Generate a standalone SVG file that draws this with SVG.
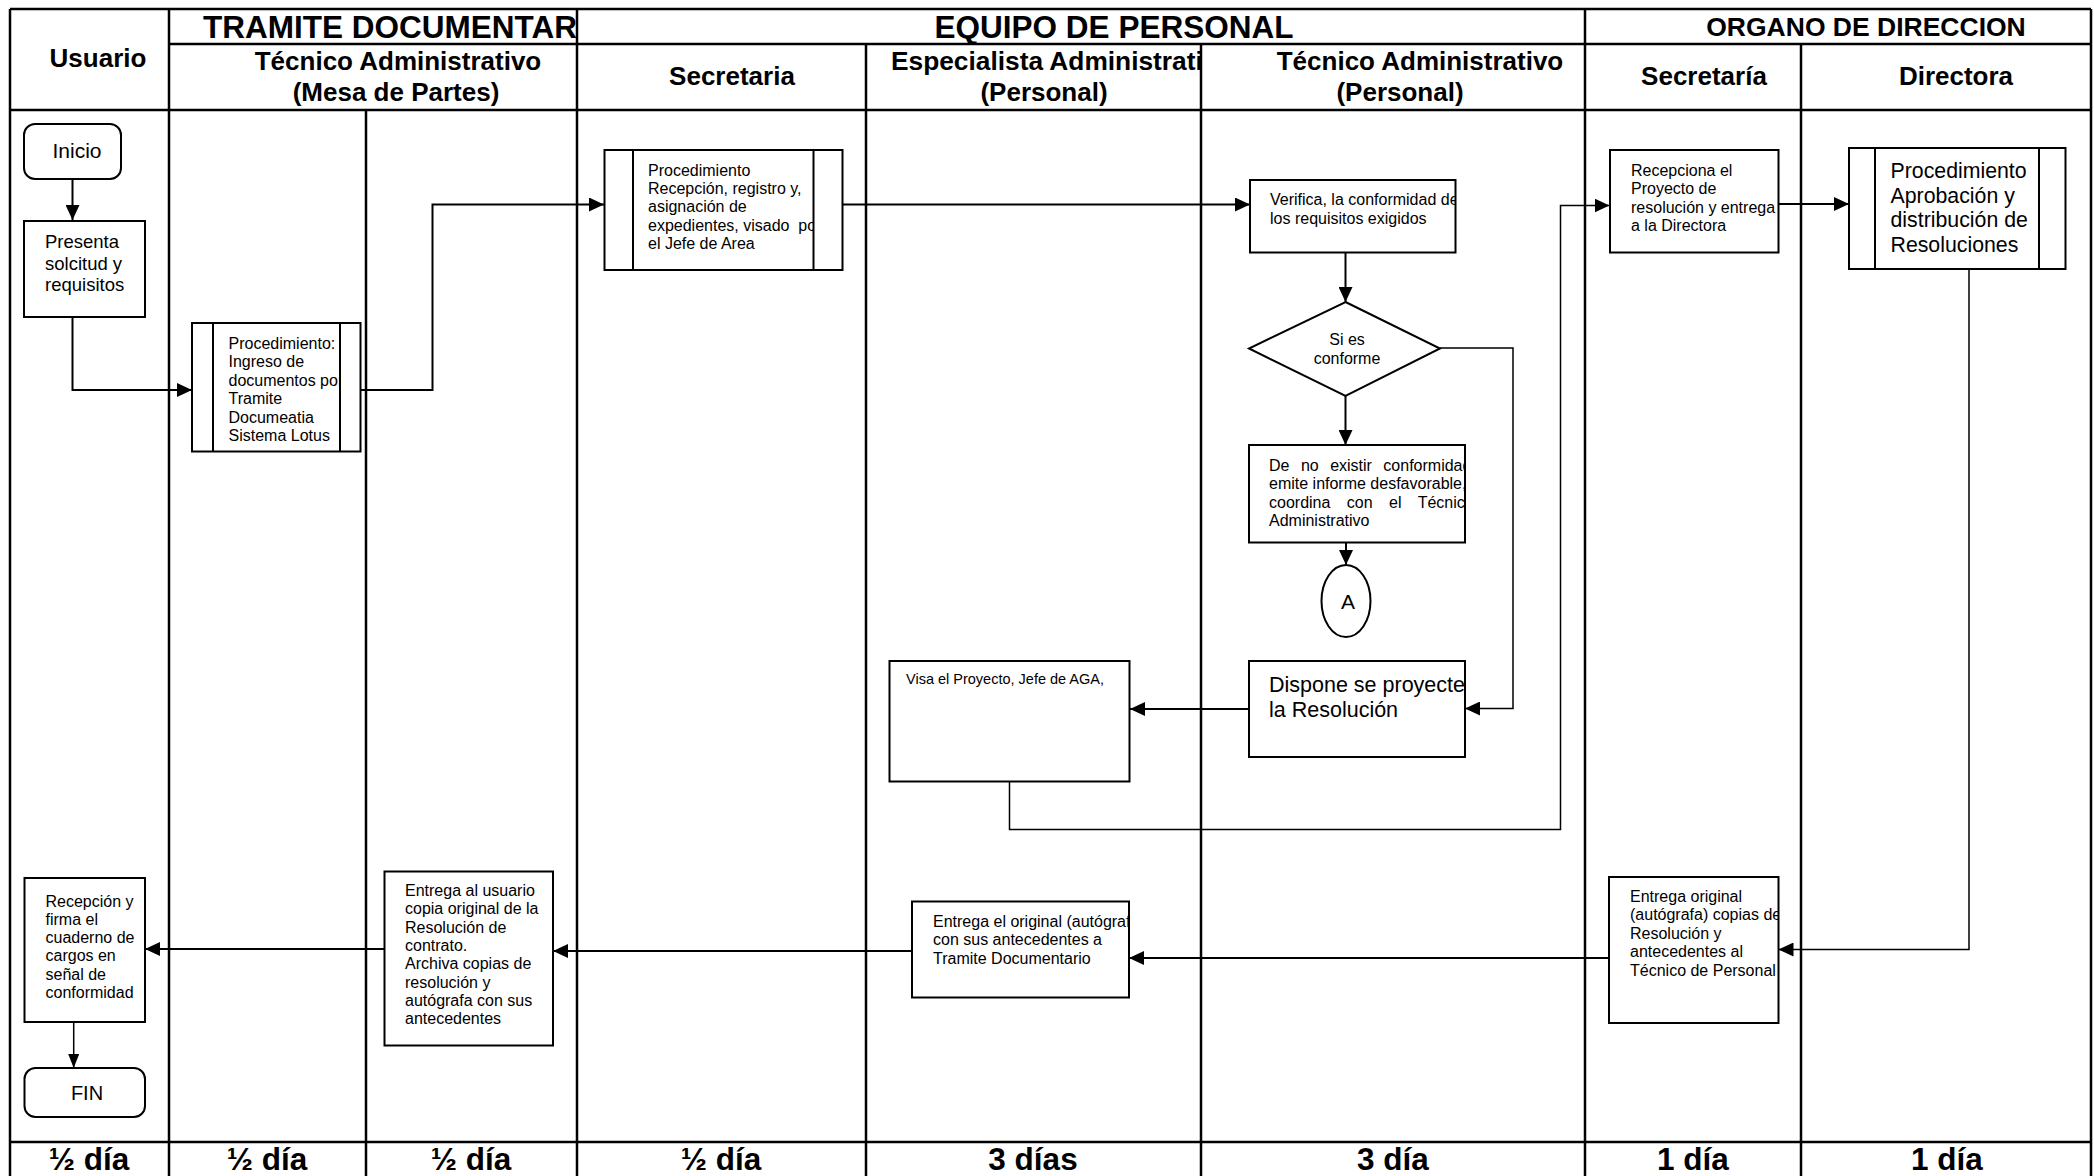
<svg xmlns="http://www.w3.org/2000/svg" width="2094" height="1176" viewBox="0 0 2094 1176">
<defs>
<style>
.grid{stroke:#000;stroke-width:2.5;fill:none}
.box{fill:#fff;stroke:#000;stroke-width:2}
.conn{fill:none;stroke:#000;stroke-width:2}
.thin{fill:none;stroke:#000;stroke-width:1.5}
.hd{font-family:"Liberation Sans",Arial,sans-serif;font-weight:bold;fill:#000}
.tx{font-family:"Liberation Sans",Arial,sans-serif;fill:#000}
.mid{text-anchor:middle}
</style>
<marker id="ah" markerUnits="userSpaceOnUse" markerWidth="15" markerHeight="14" refX="15" refY="7" orient="auto" viewBox="0 0 15 14">
<path d="M0,0 L15,7 L0,14 Z" fill="#000"/>
</marker>
<marker id="ahs" markerUnits="userSpaceOnUse" markerWidth="14" markerHeight="11" refX="14" refY="5.5" orient="auto" viewBox="0 0 14 11">
<path d="M0,0 L14,5.5 L0,11 Z" fill="#000"/>
</marker>
<clipPath id="cTram"><rect x="169" y="9" width="408" height="35"/></clipPath>
<clipPath id="cEsp"><rect x="866" y="44" width="335" height="66"/></clipPath>
<clipPath id="cP1"><rect x="213" y="323" width="127" height="129"/></clipPath>
<clipPath id="cP2"><rect x="633" y="150" width="180" height="120"/></clipPath>
<clipPath id="cVer"><rect x="1250" y="180" width="205" height="72"/></clipPath>
<clipPath id="cDeno"><rect x="1249" y="445" width="216" height="97"/></clipPath>
<clipPath id="cDisp"><rect x="1249" y="661" width="216" height="96"/></clipPath>
<clipPath id="cRec"><rect x="1610" y="150" width="168" height="102"/></clipPath>
<clipPath id="cEnt"><rect x="1609" y="877" width="169" height="146"/></clipPath>
<clipPath id="cEo"><rect x="912" y="901" width="217" height="96"/></clipPath>
</defs>
<rect width="2094" height="1176" fill="#fff"/>

<g id="grid">
<line class="grid" x1="10" y1="9" x2="2091" y2="9"/>
<line class="grid" x1="169" y1="44" x2="2091" y2="44"/>
<line class="grid" x1="10" y1="110" x2="2091" y2="110"/>
<line class="grid" x1="10" y1="1142" x2="2091" y2="1142"/>
<line class="grid" x1="10" y1="9" x2="10" y2="1176"/>
<line class="grid" x1="169" y1="9" x2="169" y2="1176"/>
<line class="grid" x1="366" y1="110" x2="366" y2="1176"/>
<line class="grid" x1="577" y1="9" x2="577" y2="1176"/>
<line class="grid" x1="866" y1="44" x2="866" y2="1176"/>
<line class="grid" x1="1201" y1="44" x2="1201" y2="1176"/>
<line class="grid" x1="1585" y1="9" x2="1585" y2="1176"/>
<line class="grid" x1="1801" y1="44" x2="1801" y2="1176"/>
<line class="grid" x1="2091" y1="9" x2="2091" y2="1176"/>
</g>

<g id="headers">
<text class="hd" x="203" y="38" font-size="31.5" clip-path="url(#cTram)">TRAMITE DOCUMENTARIO</text>
<text class="hd mid" x="1114" y="38" font-size="31.5">EQUIPO DE PERSONAL</text>
<text class="hd mid" x="1866" y="36" font-size="26.5">ORGANO DE DIRECCION</text>
<text class="hd mid" x="98" y="67" font-size="26">Usuario</text>
<text class="hd mid" x="398" y="70" font-size="26">Técnico Administrativo</text>
<text class="hd mid" x="396" y="101" font-size="26">(Mesa de Partes)</text>
<text class="hd mid" x="732" y="85" font-size="26">Secretaria</text>
<text class="hd" x="891" y="70" font-size="26.3" clip-path="url(#cEsp)">Especialista Administrativo</text>
<text class="hd mid" x="1044" y="101" font-size="26">(Personal)</text>
<text class="hd mid" x="1420" y="70" font-size="26">Técnico Administrativo</text>
<text class="hd mid" x="1400" y="101" font-size="26">(Personal)</text>
<text class="hd mid" x="1704" y="85" font-size="26">Secretaría</text>
<text class="hd mid" x="1956" y="85" font-size="26">Directora</text>
</g>

<g id="footer">
<text class="hd mid" x="89" y="1170" font-size="31.5">½ día</text>
<text class="hd mid" x="267" y="1170" font-size="31.5">½ día</text>
<text class="hd mid" x="471" y="1170" font-size="31.5">½ día</text>
<text class="hd mid" x="721" y="1170" font-size="31.5">½ día</text>
<text class="hd mid" x="1033" y="1170" font-size="31.5">3 días</text>
<text class="hd mid" x="1393" y="1170" font-size="31.5">3 día</text>
<text class="hd mid" x="1693" y="1170" font-size="31.5">1 día</text>
<text class="hd mid" x="1947" y="1170" font-size="31.5">1 día</text>
</g>

<g id="connectors">
<path class="conn" d="M72.5,179 V220" marker-end="url(#ah)"/>
<path class="conn" d="M72.5,317 V390 H192" marker-end="url(#ah)"/>
<path class="conn" d="M360.5,390 H432.5 V204.5 H604" marker-end="url(#ah)"/>
<path class="conn" d="M840,204.5 H1250" marker-end="url(#ah)"/>
<path class="conn" d="M1345.5,252.5 V302" marker-end="url(#ah)"/>
<path class="conn" d="M1345.5,396 V445" marker-end="url(#ah)"/>
<path class="conn" d="M1346,542.5 V565" marker-end="url(#ah)"/>
<path class="thin" d="M1440,348 H1513 V708.5 H1465" marker-end="url(#ah)"/>
<path class="conn" d="M1249,709 H1130" marker-end="url(#ah)"/>
<path class="thin" d="M1009.5,781.5 V829.5 H1560.5 V205.5 H1609.5" marker-end="url(#ah)"/>
<path class="conn" d="M1778.5,204 H1849" marker-end="url(#ah)"/>
<path class="thin" d="M1969,269 V949.5 H1778.5" marker-end="url(#ah)"/>
<path class="conn" d="M1609,958 H1129" marker-end="url(#ah)"/>
<path class="conn" d="M912,951 H553" marker-end="url(#ah)"/>
<path class="conn" d="M384,949 H145" marker-end="url(#ah)"/>
<path class="thin" d="M73.7,1022 V1068" marker-end="url(#ahs)"/>
</g>

<g id="n-inicio">
<rect class="box" x="24" y="124" width="97" height="55" rx="11"/>
<text class="tx mid" x="77" y="158" font-size="21">Inicio</text>
</g>

<g id="n-presenta">
<rect class="box" x="24" y="221" width="121" height="96"/>
<text class="tx" font-size="18.5"><tspan x="45" y="248">Presenta</tspan><tspan x="45" y="269.5">solcitud y</tspan><tspan x="45" y="291">requisitos</tspan></text>
</g>

<g id="n-proc-ingreso">
<rect class="box" x="192" y="323" width="168.5" height="128.5"/>
<line class="box" x1="213" y1="323" x2="213" y2="451.5"/>
<line class="box" x1="340" y1="323" x2="340" y2="451.5"/>
<text class="tx" font-size="16" clip-path="url(#cP1)"><tspan x="228.5" y="349">Procedimiento:</tspan><tspan x="228.5" y="367.4">Ingreso de</tspan><tspan x="228.5" y="385.8">documentos por</tspan><tspan x="228.5" y="404.2">Tramite</tspan><tspan x="228.5" y="422.6">Documeatia</tspan><tspan x="228.5" y="441">Sistema Lotus</tspan></text>
</g>

<g id="n-proc-recepcion">
<rect class="box" x="604.5" y="150" width="238" height="120"/>
<line class="box" x1="633" y1="150" x2="633" y2="270"/>
<line class="box" x1="813.5" y1="150" x2="813.5" y2="270"/>
<text class="tx" font-size="16" clip-path="url(#cP2)"><tspan x="648" y="175.5">Procedimiento</tspan><tspan x="648" y="194">Recepción, registro y,</tspan><tspan x="648" y="212.4">asignación de</tspan><tspan x="648" y="230.8" xml:space="preserve">expedientes, visado  por</tspan><tspan x="648" y="249.2">el Jefe de Area</tspan></text>
</g>

<g id="n-verifica">
<rect class="box" x="1250" y="180" width="205.5" height="72.5"/>
<text class="tx" font-size="16" clip-path="url(#cVer)"><tspan x="1270" y="205">Verifica, la conformidad de</tspan><tspan x="1270" y="224">los requisitos exigidos</tspan></text>
</g>

<g id="n-decision">
<polygon class="box" points="1345.5,302 1440,348.5 1345.5,396 1249,348.5"/>
<text class="tx mid" font-size="16"><tspan x="1347" y="345">Si es</tspan><tspan x="1347" y="364">conforme</tspan></text>
</g>

<g id="n-no-conforme">
<rect class="box" x="1249" y="445" width="216" height="97.5"/>
<text class="tx" font-size="16" clip-path="url(#cDeno)"><tspan x="1269" y="470.5" word-spacing="7">De no existir conformidad</tspan><tspan x="1269" y="489">emite informe desfavorable,</tspan><tspan x="1269" y="507.5" word-spacing="12">coordina con el Técnico</tspan><tspan x="1269" y="526">Administrativo</tspan></text>
</g>

<g id="n-conector-a">
<ellipse class="box" cx="1346" cy="601" rx="24.5" ry="36"/>
<text class="tx mid" x="1348" y="608.5" font-size="21">A</text>
</g>

<g id="n-dispone">
<rect class="box" x="1249" y="661" width="216" height="96"/>
<text class="tx" font-size="21.5" clip-path="url(#cDisp)"><tspan x="1269" y="692">Dispone se proyecte</tspan><tspan x="1269" y="716.5">la Resolución</tspan></text>
</g>

<g id="n-visa">
<rect class="box" x="889.5" y="661" width="240" height="120.5"/>
<text class="tx" x="906" y="684" font-size="14.5">Visa el Proyecto, Jefe de AGA,</text>
</g>

<g id="n-recepciona">
<rect class="box" x="1610" y="150" width="168.5" height="102.5"/>
<text class="tx" font-size="16" clip-path="url(#cRec)"><tspan x="1631" y="175.5">Recepciona el</tspan><tspan x="1631" y="194">Proyecto de</tspan><tspan x="1631" y="212.5">resolución y entrega</tspan><tspan x="1631" y="231">a la Directora</tspan></text>
</g>

<g id="n-proc-aprobacion">
<rect class="box" x="1849" y="148" width="216.5" height="121"/>
<line class="box" x1="1875" y1="148" x2="1875" y2="269"/>
<line class="box" x1="2039" y1="148" x2="2039" y2="269"/>
<text class="tx" font-size="21.3"><tspan x="1890.5" y="178">Procedimiento</tspan><tspan x="1890.5" y="202.5">Aprobación y</tspan><tspan x="1890.5" y="227">distribución de</tspan><tspan x="1890.5" y="251.5">Resoluciones</tspan></text>
</g>

<g id="n-entrega-original">
<rect class="box" x="1609" y="877" width="169.5" height="146"/>
<text class="tx" font-size="16" clip-path="url(#cEnt)"><tspan x="1630" y="901.5">Entrega original</tspan><tspan x="1630" y="920">(autógrafa) copias de</tspan><tspan x="1630" y="938.5">Resolución y</tspan><tspan x="1630" y="957">antecedentes al</tspan><tspan x="1630" y="975.5">Técnico de Personal</tspan></text>
</g>

<g id="n-entrega-tramite">
<rect class="box" x="912" y="901.5" width="217" height="96"/>
<text class="tx" font-size="16" clip-path="url(#cEo)"><tspan x="933" y="926.5">Entrega el original (autógrafa)</tspan><tspan x="933" y="945">con sus antecedentes a</tspan><tspan x="933" y="963.5">Tramite Documentario</tspan></text>
</g>

<g id="n-entrega-usuario">
<rect class="box" x="384.5" y="871.5" width="168.5" height="174"/>
<text class="tx" font-size="16"><tspan x="405" y="896">Entrega al usuario</tspan><tspan x="405" y="914.3">copia original de la</tspan><tspan x="405" y="932.6">Resolución de</tspan><tspan x="405" y="950.9">contrato.</tspan><tspan x="405" y="969.2">Archiva copias de</tspan><tspan x="405" y="987.5">resolución y</tspan><tspan x="405" y="1005.8">autógrafa con sus</tspan><tspan x="405" y="1024.1">antecedentes</tspan></text>
</g>

<g id="n-recepcion-usuario">
<rect class="box" x="24.5" y="878" width="120.5" height="144"/>
<text class="tx" font-size="16"><tspan x="45.5" y="906.5">Recepción y</tspan><tspan x="45.5" y="924.8">firma el</tspan><tspan x="45.5" y="943.1">cuaderno de</tspan><tspan x="45.5" y="961.4">cargos en</tspan><tspan x="45.5" y="979.7">señal de</tspan><tspan x="45.5" y="998">conformidad</tspan></text>
</g>

<g id="n-fin">
<rect class="box" x="24.5" y="1068" width="120.5" height="49" rx="11"/>
<text class="tx mid" x="87" y="1099.5" font-size="20">FIN</text>
</g>
</svg>
